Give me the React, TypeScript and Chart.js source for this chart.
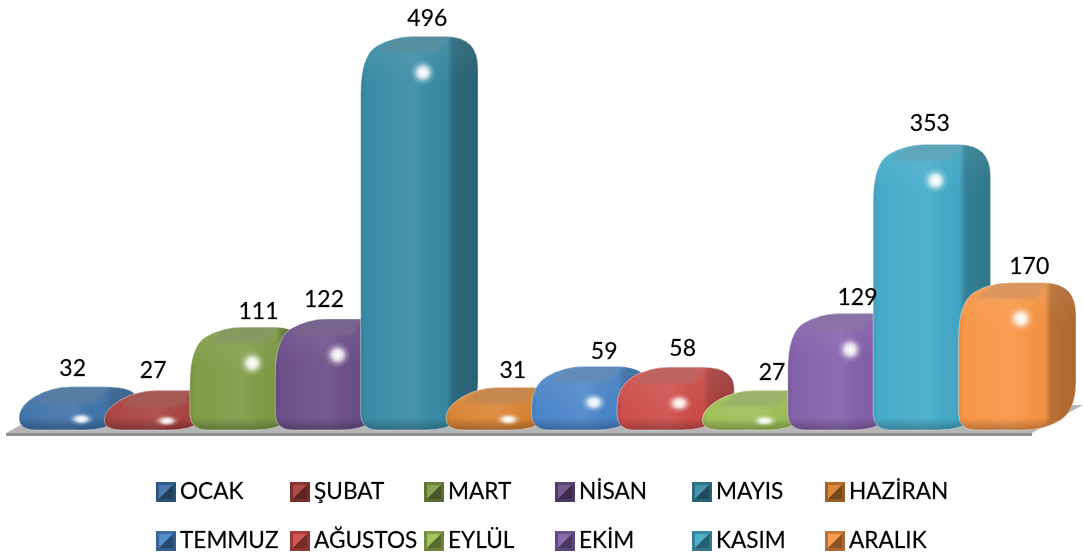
import React, { useEffect, useRef } from "react";
import { Chart, registerables } from "chart.js";

Chart.register(...registerables);

const months = ["OCAK", "ŞUBAT", "MART", "NİSAN", "MAYIS", "HAZİRAN", "TEMMUZ", "AĞUSTOS", "EYLÜL", "EKİM", "KASIM", "ARALIK"];
const counts = [32, 27, 111, 122, 496, 31, 59, 58, 27, 129, 353, 170];
const colours = ["#3d72a8", "#a8403c", "#7f9c47", "#6b5089", "#3a8ca6", "#d98231", "#4a86c8", "#cd4e4a", "#9cbf55", "#8462ab", "#46abc9", "#f79646"];
const labelNudgeX = [11, 6, 26, 6, 24, 24, 30, 23, 27, 27, 14, 28];
const labelNudgeY = [-37, -39, -35, -38, -37, -36, -34, -38, -37, -35, -40, -35];
const legendColumns = [156, 290, 424, 555, 692, 825];
const legendRows = [492, 541];

const FONT = "Lato, 'Open Sans', sans-serif";
const DX = 32;
const DY = 19;

function rgb(hex: string) {
  const n = parseInt(hex.slice(1), 16);
  return [(n >> 16) & 255, (n >> 8) & 255, n & 255];
}
function mix(hex: string, to: number[], f: number) {
  const c = rgb(hex);
  return `rgb(${c.map((v, i) => Math.round(v + (to[i] - v) * f)).join(",")})`;
}
const dark = (hex: string, f: number) => mix(hex, [0, 0, 0], f);
const light = (hex: string, f: number) => mix(hex, [255, 255, 255], f);

type Corner = [number, number, number];

function roundedPath(ctx: CanvasRenderingContext2D, pts: Corner[]) {
  const n = pts.length;
  ctx.beginPath();
  for (let i = 0; i < n; i++) {
    const [x, y, t] = pts[i];
    const [ax, ay] = pts[(i + n - 1) % n];
    const [bx, by] = pts[(i + 1) % n];
    const la = Math.hypot(ax - x, ay - y);
    const lb = Math.hypot(bx - x, by - y);
    const ta = Math.min(t, la / 2);
    const tb = Math.min(t, lb / 2);
    const sx = x + ((ax - x) / la) * ta;
    const sy = y + ((ay - y) / la) * ta;
    if (i === 0) ctx.moveTo(sx, sy);
    else ctx.lineTo(sx, sy);
    ctx.quadraticCurveTo(x, y, x + ((bx - x) / lb) * tb, y + ((by - y) / lb) * tb);
  }
  ctx.closePath();
}

function drawBar(ctx: CanvasRenderingContext2D, el: any, c: string) {
  const w = el.width;
  const x0 = el.x - w / 2;
  const x1 = x0 + w;
  const top = el.y;
  const base = el.base;
  const h = base - top;
  const pts: Corner[] = [
    [x0, base, 17],
    [x0, top, 38],
    [x0 + DX, top - DY, 20],
    [x1 + DX, top - DY, 32],
    [x1 + DX, base - DY, 30],
    [x1, base, 20],
  ];
  const tall = Math.min(1, h / 80);
  ctx.save();
  roundedPath(ctx, pts);
  ctx.save();
  ctx.clip();

  const span = w + DX;
  const edge = w / span;
  const g = ctx.createLinearGradient(x0, 0, x1 + DX, 0);
  g.addColorStop(0, dark(c, 0.08));
  g.addColorStop(0.05, c);
  g.addColorStop(edge * 0.62, light(c, 0.07));
  g.addColorStop(edge * 0.8, c);
  g.addColorStop(edge + 0.01, dark(c, 0.04));
  g.addColorStop(edge + 0.06, dark(c, 0.26 * (0.35 + 0.65 * tall)));
  g.addColorStop(1, dark(c, 0.31 * (0.6 + 0.4 * tall)));
  ctx.fillStyle = g;
  ctx.fillRect(x0 - 1, top - DY - 1, span + 2, h + DY + 2);

  // upper bevel of the front and the side
  const bevel = ctx.createLinearGradient(0, top - DY, 0, top + 26);
  bevel.addColorStop(0, "rgba(255,255,255,0.08)");
  bevel.addColorStop(1, "rgba(255,255,255,0)");
  ctx.fillStyle = bevel;
  ctx.fillRect(x0 - 1, top - DY - 1, span + 2, 46);

  // flat top facet
  ctx.save();
  ctx.filter = "blur(1.5px)";
  ctx.fillStyle = mix(c, [150, 150, 150], 0.3);
  ctx.beginPath();
  ctx.moveTo(x0 + 40, top - DY - 3);
  ctx.lineTo(x1 + 6, top - DY - 3);
  ctx.lineTo(x1 - 9, top - 3);
  ctx.lineTo(x0 + 17, top - 3);
  ctx.closePath();
  ctx.fill();
  ctx.restore();

  // darker rim along the lower front edge
  const rim = ctx.createLinearGradient(0, base - 12, 0, base);
  rim.addColorStop(0, "rgba(0,0,0,0)");
  rim.addColorStop(1, "rgba(0,0,0,0.26)");
  ctx.fillStyle = rim;
  ctx.fillRect(x0 - 1, base - 12, w + 6, 13);

  // specular spot
  const hy = top + Math.min(17, h * 0.55);
  const hx = x1 - 23;
  const sy = Math.min(1, 0.22 + h / 80);
  ctx.save();
  ctx.translate(hx, hy);
  ctx.scale(1, sy);
  const s = ctx.createRadialGradient(0, 0, 0.5, 0, 0, 13);
  s.addColorStop(0, "rgba(255,255,255,1)");
  s.addColorStop(0.35, "rgba(255,255,255,0.8)");
  s.addColorStop(0.7, "rgba(255,255,255,0.2)");
  s.addColorStop(1, "rgba(255,255,255,0)");
  ctx.fillStyle = s;
  ctx.fillRect(-14, -14, 28, 28);
  ctx.restore();

  ctx.restore();
  roundedPath(ctx, pts);
  ctx.strokeStyle = "rgba(255,255,255,0.4)";
  ctx.lineWidth = 1;
  ctx.stroke();
  ctx.restore();
}

function drawSwatch(ctx: CanvasRenderingContext2D, x: number, yc: number, c: string) {
  const s = 20;
  const y = yc - s / 2;
  const inset = 3;
  ctx.save();
  ctx.fillStyle = dark(c, 0.3);
  ctx.fillRect(x, y, s, s);
  const facet = (pts: number[][], fill: string) => {
    ctx.fillStyle = fill;
    ctx.beginPath();
    pts.forEach(([a, b], i) => (i ? ctx.lineTo(a, b) : ctx.moveTo(a, b)));
    ctx.closePath();
    ctx.fill();
  };
  const a = x + inset;
  const b = x + s - inset;
  const t = y + inset;
  const u = y + s - inset;
  facet([[a, t], [b, t], [a, u]], light(c, 0.06));
  facet([[b, t], [b, u], [a, u]], dark(c, 0.45));
  facet([[x, y], [x + s, y], [b, t], [a, t]], dark(c, 0.18));
  facet([[x, y], [a, t], [a, u], [x, y + s]], dark(c, 0.25));
  ctx.restore();
}

function label(ctx: CanvasRenderingContext2D, text: string, x: number, y: number) {
  ctx.fillText(text, x, y);
  ctx.strokeText(text, x, y);
}

const scenePlugin = {
  id: "scene3d",
  beforeDatasetsDraw(chart: any) {
    const ctx: CanvasRenderingContext2D = chart.ctx;
    const { left, right, bottom } = chart.chartArea;
    const y0 = bottom + 3;
    ctx.save();
    ctx.fillStyle = "#b5b5b5";
    ctx.beginPath();
    ctx.moveTo(left - 13, y0);
    ctx.lineTo(left + 38, y0 - 28);
    ctx.lineTo(right + 39, y0 - 28);
    ctx.lineTo(right - 12, y0);
    ctx.closePath();
    ctx.fill();
    ctx.fillStyle = "#8f8f8f";
    ctx.fillRect(left - 13, y0, right - left + 1, 3);
    ctx.restore();
  },
  beforeDatasetDraw(chart: any, args: any) {
    const ctx: CanvasRenderingContext2D = chart.ctx;
    const meta = chart.getDatasetMeta(args.index);
    meta.data.forEach((el: any, i: number) => {
      drawBar(ctx, el, el.options.backgroundColor ?? colours[i]);
    });
    return false;
  },
  afterDatasetsDraw(chart: any) {
    const ctx: CanvasRenderingContext2D = chart.ctx;
    const meta = chart.getDatasetMeta(0);
    ctx.save();
    ctx.fillStyle = "#000";
    ctx.strokeStyle = "rgba(0,0,0,0.55)";
    ctx.lineWidth = 0.35;
    ctx.font = `23px ${FONT}`;
    ctx.textAlign = "center";
    ctx.textBaseline = "middle";
    meta.data.forEach((el: any, i: number) => {
      label(ctx, String(counts[i]), el.x + labelNudgeX[i], el.y + labelNudgeY[i]);
    });
    ctx.restore();
  },
  afterDraw(chart: any) {
    const ctx: CanvasRenderingContext2D = chart.ctx;
    ctx.save();
    ctx.font = `22.6px ${FONT}`;
    ctx.textBaseline = "middle";
    ctx.textAlign = "left";
    ctx.strokeStyle = "rgba(0,0,0,0.55)";
    ctx.lineWidth = 0.35;
    months.forEach((m, i) => {
      const col = i % legendColumns.length;
      const row = Math.floor(i / legendColumns.length);
      const x = legendColumns[col];
      const y = legendRows[row];
      drawSwatch(ctx, x, y, colours[i]);
      ctx.fillStyle = "#000";
      label(ctx, m, x + 24, y);
    });
    ctx.restore();
  },
};

export default function App() {
  const ref = useRef<HTMLCanvasElement>(null);
  useEffect(() => {
    if (!ref.current) return;
    const chart = new Chart(ref.current, {
      type: "bar",
      data: {
        labels: months,
        datasets: [
          {
            data: counts,
            backgroundColor: colours,
            barPercentage: 1,
            categoryPercentage: 1,
          },
        ],
      },
      options: {
        animation: false,
        responsive: false,
        devicePixelRatio: 1,
        layout: { padding: { left: 19, right: 39, top: 52.5, bottom: 129 } },
        scales: {
          x: { display: false },
          y: { display: false, min: 0, max: 500 },
        },
        plugins: { legend: { display: false }, tooltip: { enabled: false } },
      },
      plugins: [scenePlugin],
    } as any);
    return () => chart.destroy();
  }, []);
  return (
    <div style={{ position: "fixed", left: 0, top: 0, width: 1083, height: 559, background: "#fff" }}>
      <canvas ref={ref} width={1083} height={559} style={{ display: "block" }} />
    </div>
  );
}
